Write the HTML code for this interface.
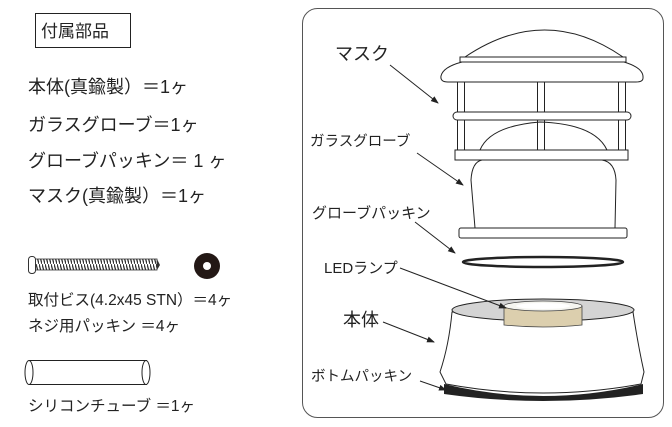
<!DOCTYPE html>
<html><head><meta charset="utf-8"><style>
html,body{margin:0;padding:0;background:#fff;width:672px;height:427px;overflow:hidden}
svg{position:absolute;left:0;top:0}
text{font-family:"Liberation Sans","Noto Sans CJK JP",sans-serif;fill:#222}
</style></head><body>
<svg width="672" height="427" viewBox="0 0 672 427">
<defs>
<pattern id="th" width="3" height="11" patternUnits="userSpaceOnUse"><path d="M0 0 L3 11" stroke="#333" stroke-width="1.3"/></pattern>
<marker id="ar" markerWidth="8" markerHeight="8" refX="7" refY="4" orient="auto"><path d="M0,1 L8,4 L0,7 Z" fill="#222"/></marker>
</defs>
<!-- left -->
<rect x="35.5" y="13.5" width="95" height="34" fill="none" stroke="#222"/>
<text x="41" y="37" font-size="17">付属部品</text>
<text x="28" y="93" font-size="18">本体(真鍮製）＝1ヶ</text>
<text x="28" y="131" font-size="18">ガラスグローブ＝1ヶ</text>
<text x="28" y="167" font-size="18">グローブパッキン＝ 1 ヶ</text>
<text x="28" y="202" font-size="18">マスク(真鍮製）＝1ヶ</text>
<rect x="35" y="259" width="122" height="11" fill="url(#th)" stroke="#333" stroke-width="0.8"/>
<path d="M157 259 L160 265 L157 270" fill="#333"/>
<rect x="28.5" y="256.5" width="7" height="17" rx="3" fill="#fff" stroke="#333"/>
<circle cx="207" cy="266" r="13" fill="#231815"/>
<circle cx="207" cy="266" r="4" fill="#fff"/>
<text x="28" y="305" font-size="15.5">取付ビス(4.2x45 STN）＝4ヶ</text>
<text x="28" y="331" font-size="15.5">ネジ用パッキン ＝4ヶ</text>
<path d="M29 360.5 L147 360.5 M29 384.5 L147 384.5" stroke="#222"/>
<ellipse cx="29" cy="372.5" rx="4" ry="12" fill="none" stroke="#222"/>
<ellipse cx="146" cy="372.5" rx="4" ry="12" fill="#fff" stroke="#222"/>
<text x="28" y="411" font-size="15.5">シリコンチューブ ＝1ヶ</text>
<!-- panel -->
<rect x="302.5" y="8.5" width="361" height="409" rx="15" fill="none" stroke="#555"/>
<g fill="#fff" stroke="#222" stroke-width="1">
<path d="M465 57 Q545 3 623 57 Z"/>
<rect x="460" y="57" width="166" height="5"/>
<path d="M462 62 L624 62 Q644 68 643 78 Q643 82 636 82 L448 82 Q440 82 441 76 Q443 67 462 62 Z"/>
<rect x="457.5" y="82" width="7" height="68"/>
<rect x="537.5" y="82" width="7" height="68"/>
<rect x="618.5" y="82" width="7" height="68"/>
<rect x="453" y="112" width="178" height="8" rx="4"/>
<path d="M480 150 Q490 126 540 122 Q595 124 607 150" fill="none"/>
<rect x="455" y="150" width="173" height="10"/>
<path d="M475 228 L471 180 Q472 162 482 160 L602 160 Q615 162 616 180 L615 228 Z"/>
<rect x="459" y="228" width="168" height="10" rx="2"/>
</g>
<ellipse cx="543" cy="262" rx="80" ry="5" fill="none" stroke="#222" stroke-width="2.5"/>
<!-- body -->
<path d="M444 384 Q543 408 643 384 L643 394 Q543 408 444 394 Z" fill="#222"/>
<path d="M452 312 L633 312 Q638 345 644 372 L641 384 Q543 402 446 384 L440 372 Q449 345 452 312 Z" fill="#fff" stroke="#222"/>
<ellipse cx="543" cy="310" rx="91" ry="11" fill="#d4d4d4" stroke="#222"/>
<path d="M504 306 L504 325 Q543 329 582 325 L582 306 Z" fill="#dccfae" stroke="#444" stroke-width="0.8"/>
<ellipse cx="543" cy="306" rx="39" ry="5" fill="#f5f5f0" stroke="#444" stroke-width="0.8"/>
<ellipse cx="543" cy="306" rx="27" ry="3" fill="#fff"/>
<!-- labels -->
<g stroke="#222" stroke-width="1" marker-end="url(#ar)">
<line x1="390" y1="65" x2="438" y2="103"/>
<line x1="417" y1="153" x2="463" y2="185"/>
<line x1="415" y1="222" x2="455" y2="253"/>
<line x1="400" y1="268" x2="506" y2="308"/>
<line x1="383" y1="322" x2="434" y2="342"/>
<line x1="420" y1="381" x2="446" y2="390"/>
</g>
<text x="335" y="60" font-size="18">マスク</text>
<text x="310" y="146" font-size="14.5">ガラスグローブ</text>
<text x="312" y="218" font-size="15">グローブパッキン</text>
<text x="324" y="273" font-size="15">LEDランプ</text>
<text x="343" y="326" font-size="18">本体</text>
<text x="311" y="381" font-size="14.5">ボトムパッキン</text>
</svg>
</body></html>
